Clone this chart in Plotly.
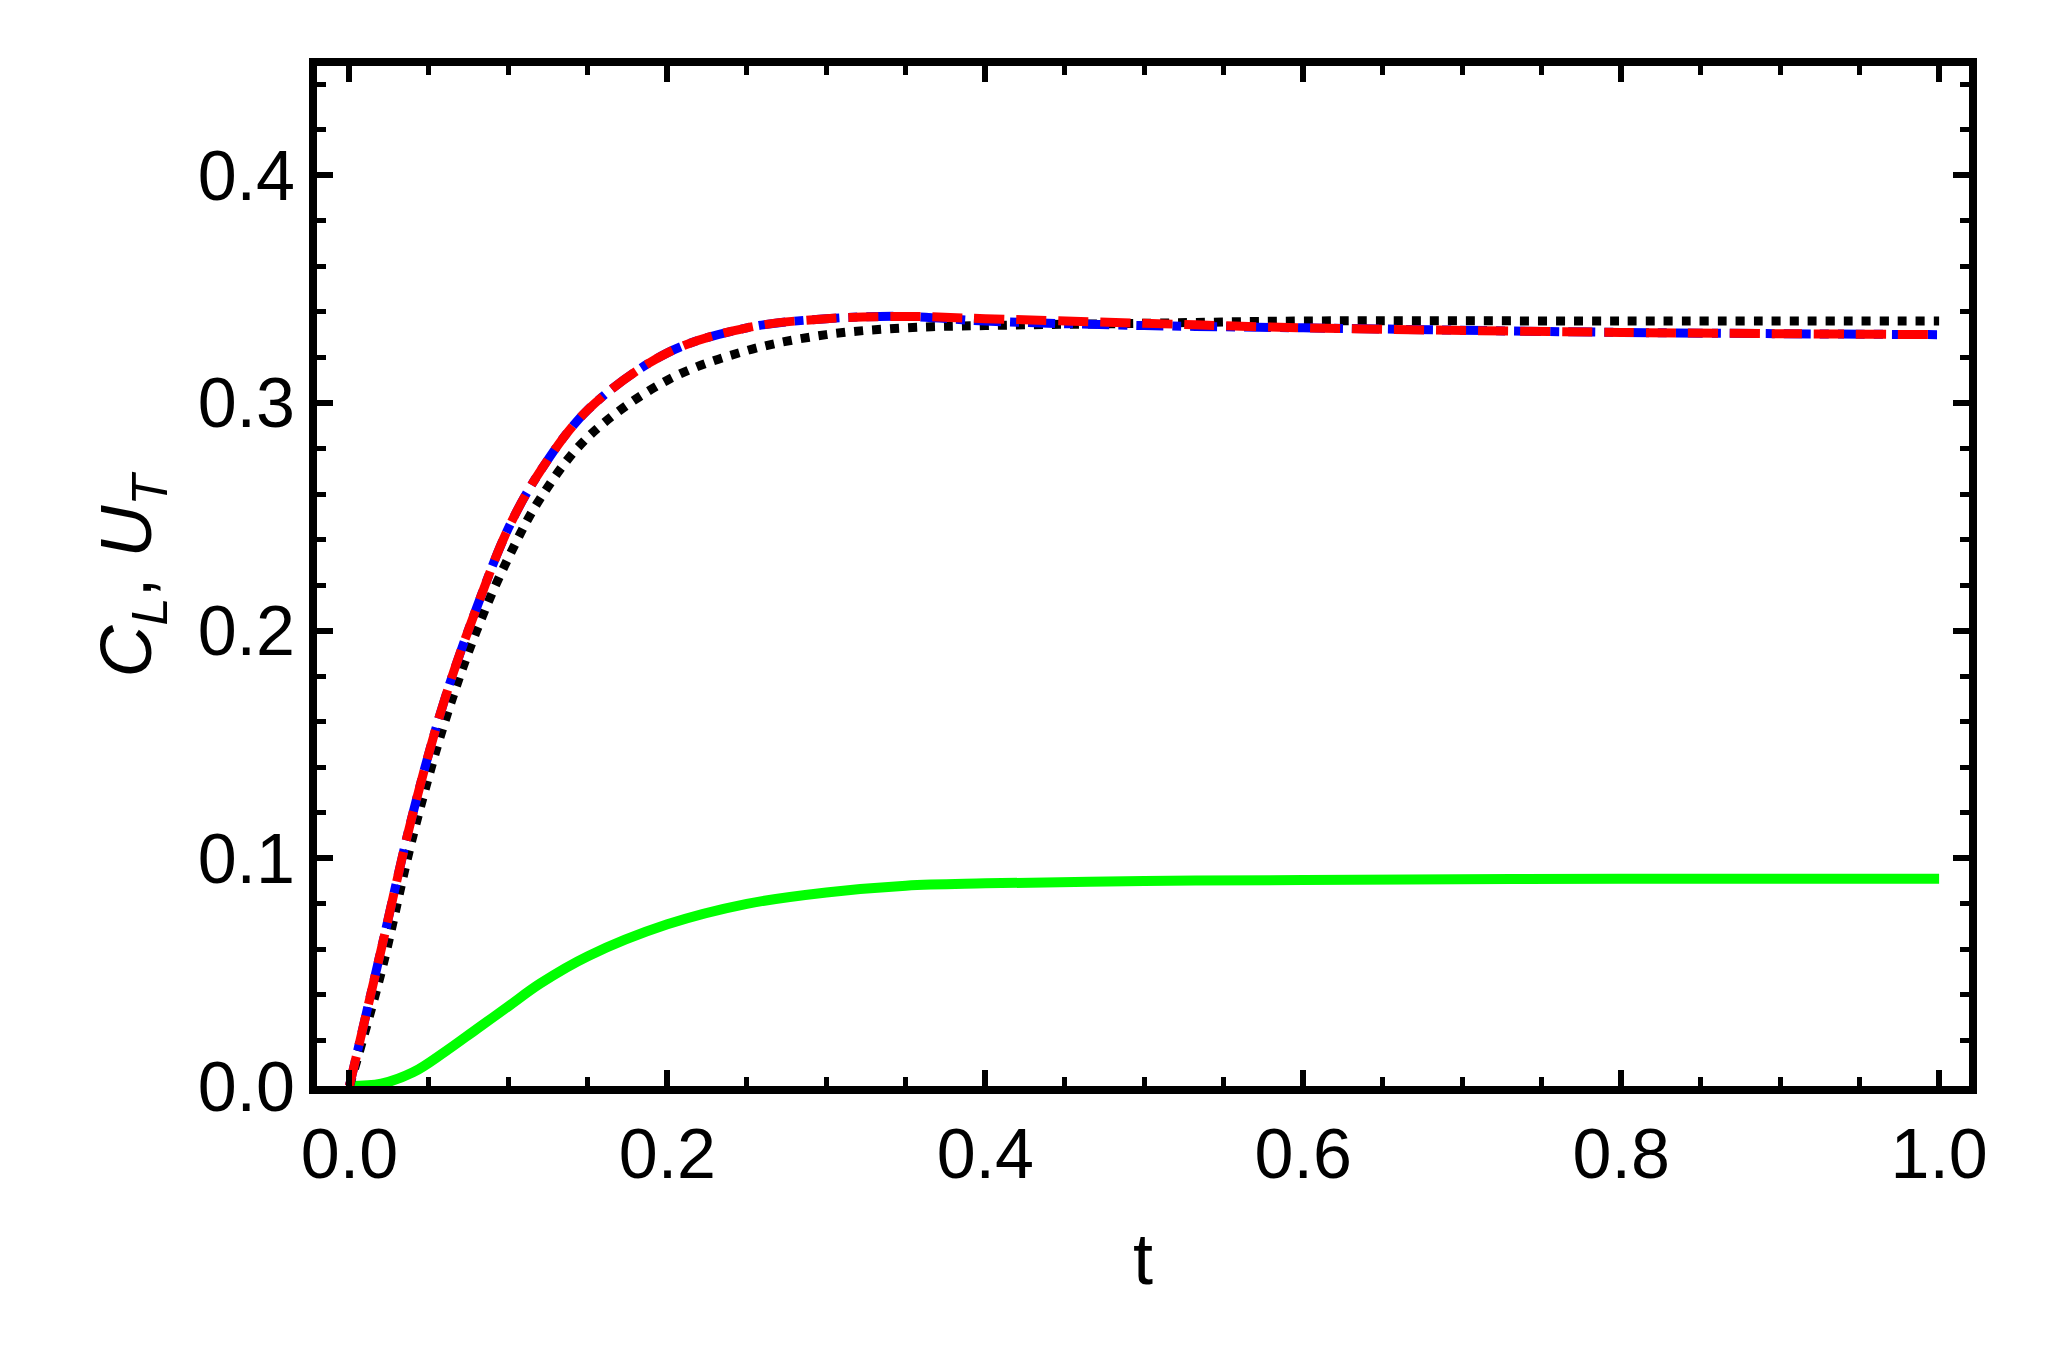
import plotly.graph_objects as go

t_vals = [0, 0.02, 0.04, 0.06, 0.08, 0.1, 0.12, 0.15, 0.2, 0.25, 0.3, 0.35, 0.4, 0.5, 0.6, 0.8, 1.0]
blue_vals = [0, 0.06, 0.12, 0.17, 0.21, 0.245, 0.27, 0.297, 0.322, 0.333, 0.337, 0.338, 0.336, 0.334, 0.333, 0.331, 0.330]
red_vals = [0, 0.06, 0.12, 0.17, 0.21, 0.245, 0.27, 0.297, 0.322, 0.333, 0.337, 0.338, 0.337, 0.335, 0.333, 0.331, 0.330]
black_vals = [0, 0.05, 0.11, 0.16, 0.20, 0.232, 0.258, 0.285, 0.31, 0.323, 0.33, 0.333, 0.334, 0.335, 0.336, 0.336, 0.336]
green_vals = [0, 0.001, 0.006, 0.015, 0.025, 0.035, 0.045, 0.057, 0.071, 0.08, 0.085, 0.088, 0.089, 0.090, 0.0905, 0.091, 0.091]

fig = go.Figure()
fig.add_trace(go.Scatter(x=t_vals, y=green_vals, mode="lines", line=dict(color="#00ff00", width=10, shape="spline")))
fig.add_trace(go.Scatter(x=t_vals, y=black_vals, mode="lines", line=dict(color="black", width=9, dash="dot", shape="spline")))
fig.add_trace(go.Scatter(x=t_vals, y=blue_vals, mode="lines", line=dict(color="blue", width=9, dash="dashdot", shape="spline")))
fig.add_trace(go.Scatter(x=t_vals, y=red_vals, mode="lines", line=dict(color="red", width=9, dash="30px,12px", shape="spline")))

axis_common = dict(showgrid=False, zeroline=False, showline=True, linecolor="black", linewidth=8,
                   mirror="ticks", ticks="inside", ticklen=16, tickwidth=6, tickcolor="black",
                   tickfont=dict(family="Liberation Sans", size=70, color="black"))
fig.update_xaxes(range=[-0.0204, 1.0188], tickvals=[0, 0.2, 0.4, 0.6, 0.8, 1.0],
                 ticktext=["0.0", "0.2", "0.4", "0.6", "0.8", "1.0"],
                 minor=dict(dtick=0.05, tick0=0, ticks="inside", ticklen=9, tickwidth=5, tickcolor="black"),
                 title=dict(text="t", font=dict(family="Liberation Sans", size=72, color="black"), standoff=45),
                 **axis_common)
fig.update_yaxes(range=[0, 0.448], tickvals=[0, 0.1, 0.2, 0.3, 0.4],
                 ticktext=["0.0", "0.1", "0.2", "0.3", "0.4"],
                 minor=dict(dtick=0.02, tick0=0, ticks="inside", ticklen=9, tickwidth=5, tickcolor="black"),
                 title=dict(text="<i>C</i><sub><i>L</i></sub>, <i>U</i><sub><i>T</i></sub>",
                            font=dict(family="Liberation Sans", size=72, color="black"), standoff=25),
                 **axis_common)
fig.update_layout(width=2051, height=1356, showlegend=False, plot_bgcolor="white", paper_bgcolor="white",
                  margin=dict(l=309, r=90, t=58, b=278))
fig.write_html("out.html")
